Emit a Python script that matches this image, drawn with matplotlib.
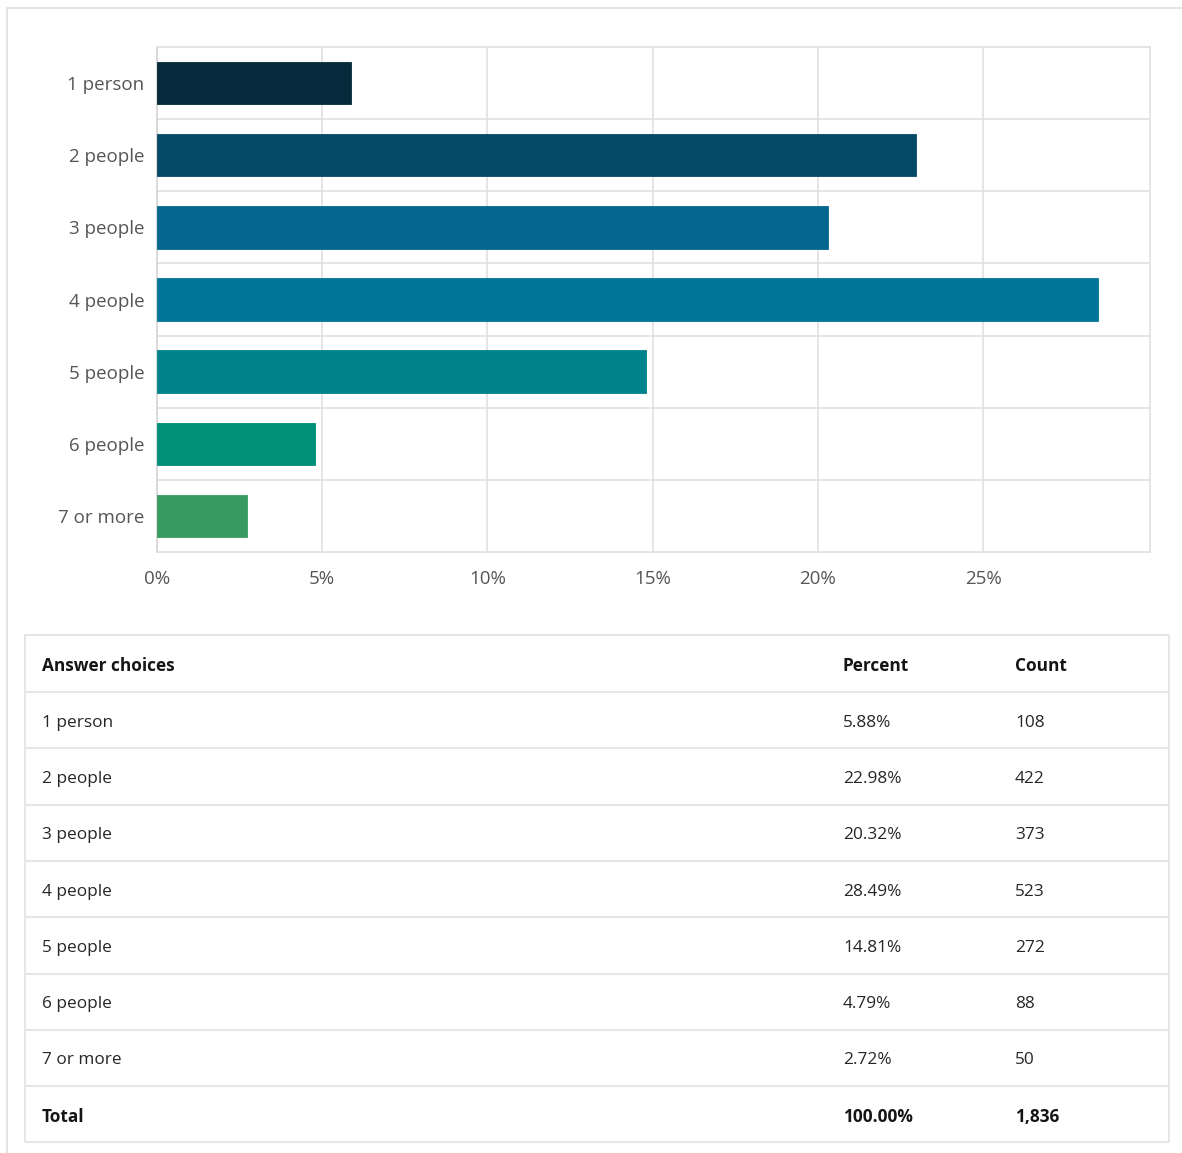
import matplotlib
matplotlib.use("Agg")
import matplotlib.pyplot as plt
from matplotlib.lines import Line2D

plt.rcParams['font.family'] = ['Open Sans', 'DejaVu Sans']

categories = ["1 person", "2 people", "3 people", "4 people", "5 people", "6 people", "7 or more"]
percents = [5.88, 22.98, 20.32, 28.49, 14.81, 4.79, 2.72]
counts = [108, 422, 373, 523, 272, 88, 50]
bar_colors = ["#052b3c", "#044a66", "#02668f", "#007597", "#00838a", "#009079", "#389b62"]
x_ticks = [0, 5, 10, 15, 20, 25]
table_header = ["Answer choices", "Percent", "Count"]

W, H = 1182, 1153
fig = plt.figure(figsize=(W / 100, H / 100), dpi=100)
fig.patch.set_facecolor("white")

grid_c = "#dedede"

# --- bar chart ---
ax = fig.add_axes([157 / W, 1 - 552 / H, (1150 - 157) / W, (552 - 47) / H])
ypos = list(range(len(categories)))
ax.barh(ypos, percents, height=0.59, color=bar_colors,
        edgecolor=bar_colors, linewidth=0.6, zorder=3)
ax.set_ylim(len(categories) - 0.5, -0.5)
ax.set_xlim(0, 30.05)
ax.set_xticks(x_ticks)
ax.set_xticklabels([f"{t}%" for t in x_ticks])
ax.set_yticks(ypos)
ax.set_yticklabels(categories)
for t in x_ticks[1:]:
    ax.axvline(t, color=grid_c, lw=1.1, zorder=1)
for k in range(len(categories) - 1):
    ax.axhline(k + 0.5, color=grid_c, lw=1.1, zorder=1)
for s in ax.spines.values():
    s.set_color(grid_c)
    s.set_linewidth(1.1)
ax.spines['left'].set_color("#cfcfcf")
ax.tick_params(axis='both', length=0, labelsize=13.5, labelcolor="#555555")
ax.tick_params(axis='x', pad=13)
ax.tick_params(axis='y', pad=9)

# --- outer panel & table drawn in pixel space ---
ov = fig.add_axes([0, 0, 1, 1], zorder=-1)
ov.set_xlim(0, W)
ov.set_ylim(H, 0)
ov.axis("off")
line_c = "#e3e3e3"
ov.add_line(Line2D([7, 7], [8, H], color=line_c, lw=1.5))
ov.add_line(Line2D([7, W], [8, 8], color=line_c, lw=1.5))

tbl = fig.add_axes([0, 0, 1, 1], zorder=2)
tbl.set_xlim(0, W)
tbl.set_ylim(H, 0)
tbl.axis("off")
tbl.patch.set_alpha(0)

left, right = 25, 1169
top = 635
header_h = 57
row_h = 56.3
col_x = [42, 843, 1015]
n_rows = len(categories) + 1
bottom = top + header_h + row_h * n_rows
border_c = "#e6e6e6"
tbl.add_line(Line2D([left, right, right, left, left], [top, top, bottom, bottom, top],
                    color=border_c, lw=1.4))
for i in range(n_rows):
    y = top + header_h + row_h * i
    tbl.add_line(Line2D([left, right], [y, y], color=border_c, lw=1.4))

txt_c = "#262626"
bold_c = "#151515"
fs = 12.4
dy = 2.5
hy = top + header_h / 2 + dy
for x, h in zip(col_x, table_header):
    tbl.text(x, hy, h, fontsize=fs, fontweight="bold", color=bold_c, va="center", ha="left")

for i, (cat, p, c) in enumerate(zip(categories, percents, counts)):
    y = top + header_h + row_h * i + row_h / 2 + dy
    tbl.text(col_x[0], y, cat, fontsize=fs, color=txt_c, va="center", ha="left")
    tbl.text(col_x[1], y, f"{p:.2f}%", fontsize=fs, color=txt_c, va="center", ha="left")
    tbl.text(col_x[2], y, f"{c:,}", fontsize=fs, color=txt_c, va="center", ha="left")

total = sum(counts)
y = top + header_h + row_h * (n_rows - 1) + row_h / 2 + dy
tbl.text(col_x[0], y, "Total", fontsize=fs, fontweight="bold", color=bold_c, va="center", ha="left")
tbl.text(col_x[1], y, f"{100 * total / total:.2f}%", fontsize=fs, fontweight="bold", color=bold_c, va="center", ha="left")
tbl.text(col_x[2], y, f"{total:,}", fontsize=fs, fontweight="bold", color=bold_c, va="center", ha="left")

fig.savefig("out.png", dpi=100, facecolor="white")
